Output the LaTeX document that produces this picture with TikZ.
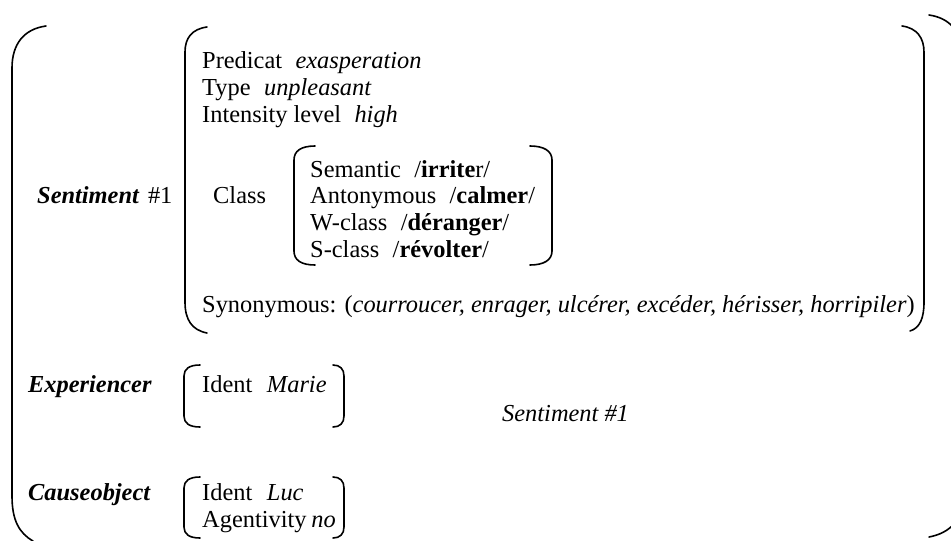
\documentclass[tikz,border=0pt]{standalone}
\usepackage{fontspec}
\setmainfont{Liberation Serif}
\newcommand{\gapA}{\hspace{0.55em}}
\begin{document}
\begin{tikzpicture}[x=1pt,y=-1pt,
  txt/.style={anchor=base west, inner sep=0pt, font=\fontsize{24.4}{27}\selectfont},
  brk/.style={line width=1.6pt, line cap=round}]
\useasboundingbox (0,0) rectangle (951,541);
\begin{scope}
\clip (0,0) rectangle (951,541);
% outer brackets
\draw[brk] (46,26) .. controls (24,29) and (12,44) .. (12,68) -- (12,496) .. controls (12,520) and (19,533) .. (33,541);
\draw[brk] (929,15) .. controls (950,18) and (962,32) .. (962,55) -- (962,500) .. controls (962,520) and (950,533) .. (929,537);
\end{scope}
% inner sentiment brackets
\draw[brk] (207,27) .. controls (192,29) and (185,38) .. (185,52) -- (185,302) .. controls (185,320) and (192,330) .. (207,333);
\draw[brk] (902,26) .. controls (917,28) and (924,38) .. (924,52) -- (924,302) .. controls (924,318) and (920,328) .. (910,331);
% class brackets
\draw[brk] (315,146) .. controls (301,146) and (294,151) .. (294,160) -- (294,251) .. controls (294,260) and (301,265) .. (315,265);
\draw[brk] (530,146) .. controls (544,146) and (552,151) .. (552,160) -- (552,251) .. controls (552,260) and (544,265) .. (530,265);
% experiencer brackets
\draw[brk] (200,365) .. controls (189,365) and (184,369) .. (184,376) -- (184,416) .. controls (184,423) and (189,427) .. (200,427);
\draw[brk] (333,365) .. controls (340,365) and (344,369) .. (344,376) -- (344,416) .. controls (344,423) and (340,427) .. (333,427);
% causeobject brackets
\draw[brk] (200,477) .. controls (189,477) and (184,481) .. (184,488) -- (184,527) .. controls (184,534) and (189,538) .. (200,538);
\draw[brk] (333,477) .. controls (340,477) and (344,481) .. (344,488) -- (344,527) .. controls (344,534) and (340,538) .. (333,538);
% texts
\node[txt] (sent) at (37,203) {\textbf{\textit{Sentiment}}\hspace{0.35em}\#1};
\node[txt] (pred) at (202,68) {Predicat\gapA\textit{exasperation}};
\node[txt] (type) at (202,95) {Type\gapA\textit{unpleasant}};
\node[txt] (int) at (202,122) {Intensity level\gapA\textit{high}};
\node[txt] (class) at (213,203) {Class};
\node[txt] (sem) at (310,177) {Semantic\gapA/\textbf{irrite}r/};
\node[txt] (ant) at (310,203) {Antonymous\gapA/\textbf{calmer}/};
\node[txt] (wcl) at (310,230) {W-class\gapA/\textbf{déranger}/};
\node[txt] (scl) at (310,257) {S-class\gapA/\textbf{révolter}/};
\node[txt] (syn) at (202,312) {Synonymous: (\textit{courroucer, enrager, ulcérer, excéder, hérisser, horripiler})};
\node[txt] (exp) at (28,392) {\textbf{\textit{Experiencer}}};
\node[txt] (expid) at (202,392) {Ident\hspace{0.6em}\textit{Marie}};
\node[txt] (ref) at (502,421) {\textit{Sentiment \#1}};
\node[txt] (cause) at (28,500) {\textbf{\textit{Causeobject}}};
\node[txt] (causeid) at (202,500) {Ident\hspace{0.6em}\textit{Luc}};
\node[txt] (agent) at (202,527) {Agentivity\hspace{0.2em}\textit{no}};
\end{tikzpicture}
\end{document}
